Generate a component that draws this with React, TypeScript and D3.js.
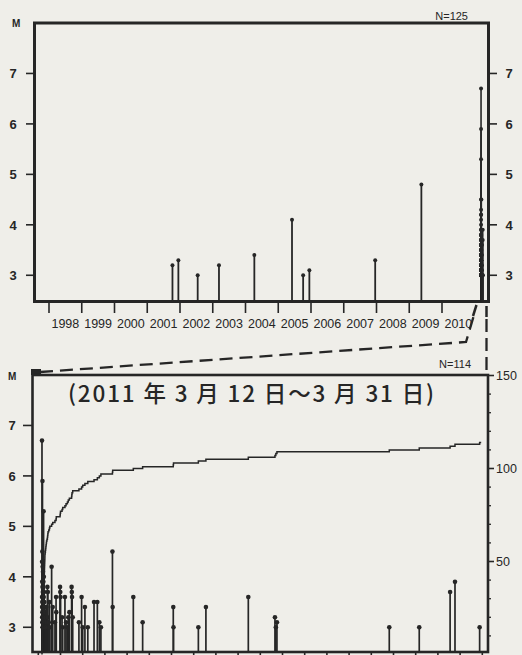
import React from "react";
import * as d3 from "d3";

const W = 522;
const H = 655;

// ---- Top chart: events before 2011 (decimal year, magnitude)
const pastYears = [2001.77, 2001.95, 2002.54, 2003.19, 2004.27, 2005.42, 2005.76, 2005.95, 2007.96, 2009.37];
const pastMags = [3.2, 3.3, 3.0, 3.2, 3.4, 4.1, 3.0, 3.1, 3.3, 4.8];

// ---- 2011 sequence: days since 2011-03-12 00:00, magnitude
const seqDays = [
  0.166, 0.169, 0.171, 0.173, 0.175, 0.177, 0.179, 0.181, 0.183, 0.185,
  0.188, 0.190, 0.192, 0.194, 0.196, 0.198, 0.200, 0.202, 0.204, 0.207,
  0.209, 0.211, 0.213, 0.215, 0.218, 0.220, 0.222, 0.225, 0.227, 0.229,
  0.232, 0.235, 0.238, 0.241, 0.244, 0.247, 0.250, 0.253, 0.256, 0.259,
  0.262, 0.265, 0.268, 0.271, 0.274, 0.277, 0.280, 0.283, 0.286, 0.289,
  0.292, 0.295, 0.297, 0.299,
  0.31, 0.32, 0.33, 0.34, 0.35, 0.36, 0.37,
  0.39, 0.41, 0.42, 0.43, 0.44,
  0.47, 0.50, 0.52,
  0.60, 0.65,
  0.75, 0.80, 0.81,
  0.98, 0.99, 1.00,
  1.07, 1.10,
  1.20, 1.25,
  1.31, 1.35, 1.40,
  1.50, 1.51, 1.52, 1.55,
  1.83,
  1.95, 2.00,
  2.10, 2.23,
  2.51, 2.66, 2.75, 2.82,
  3.34, 3.35,
  4.28, 4.70,
  6.08, 6.09,
  7.21, 7.55,
  9.46,
  10.66, 10.70, 10.75,
  15.81, 17.16, 18.55, 18.77, 19.88,
];
const seqMags = [
  6.7, 3.6, 4.3, 3.4, 3.9, 3.2, 3.5, 4.5, 3.1, 3.3,
  5.9, 3.8, 3.0, 3.4, 4.2, 3.2, 3.6, 3.1, 3.7, 3.0,
  3.3, 4.1, 3.2, 3.5, 3.0, 3.8, 3.1, 3.4, 3.0, 3.9,
  3.2, 3.3, 5.3, 3.0, 3.6, 3.1, 4.0, 3.2, 3.0, 3.4,
  3.7, 3.1, 3.0, 3.3, 3.5, 3.0, 3.2, 3.1, 3.4, 3.0,
  3.3, 3.1, 3.0, 3.2,
  3.1, 3.3, 3.0, 3.2, 3.0, 3.4, 3.1,
  3.0, 3.8, 3.2, 3.7, 3.0,
  3.1, 3.5, 3.0,
  4.2, 3.4,
  3.1, 3.6, 3.3,
  3.8, 3.7, 3.6,
  3.2, 3.0,
  3.6, 3.1,
  3.0, 3.2, 3.3,
  3.8, 3.7, 3.6, 3.2,
  3.1,
  3.6, 3.0,
  3.4, 3.0,
  3.5, 3.5, 3.1, 3.0,
  4.5, 3.4,
  3.6, 3.1,
  3.4, 3.0,
  3.0, 3.4,
  3.6,
  3.2, 3.0, 3.1,
  3.0, 3.0, 3.7, 3.9, 3.0,
];

const yearTicks = [1998, 1999, 2000, 2001, 2002, 2003, 2004, 2005, 2006, 2007, 2008, 2009, 2010];
const yearLabels = ["1998", "1999", "2000", "2001", "2002", "2003", "2004", "2005", "2006", "2007", "2008", "2009", "2010"];
const magTicks = [3, 4, 5, 6, 7];
const countTicks = [50, 100, 150];
const countMinor = [10, 20, 30, 40, 60, 70, 80, 90, 110, 120, 130, 140];
const dayTicks = [0, 1, 2, 3, 4, 5, 6, 7, 8, 9, 10, 11, 12, 13, 14, 15, 16, 17, 18, 19, 20];

const INK = "#262626";
const FONT = "'Liberation Sans', Arial, sans-serif";

export default function App() {
  // top chart scales
  const xTop = d3.scaleLinear().domain([1998, 2011]).range([49, 474.75]);
  const yTop = d3.scaleLinear().domain([2.5, 8]).range([300.5, 23]);
  const topL = 34.5, topR = 488.5, topT = 23, topB = 301.5;

  // bottom chart scales
  const xBot = d3.scaleLinear().domain([0, 20]).range([38.3, 482.3]);
  const yBot = d3.scaleLinear().domain([2.5, 8]).range([652.5, 375]);
  const yCnt = d3.scaleLinear().domain([0, 150]).range([654.5, 375.5]);
  const botL = 32.5, botR = 488, botT = 375, botB = 652;

  const seqYears = seqDays.map((d) => 2011 + (70 + d) / 365);

  const cumPts: [number, number][] = [[seqDays[0], 0]];
  seqDays.forEach((d, i) => cumPts.push([d, i + 1]));
  cumPts.push([19.95, seqDays.length]);
  const cumLine = d3
    .line<[number, number]>()
    .x((p) => xBot(p[0]))
    .y((p) => yCnt(p[1]))
    .curve(d3.curveStepAfter)(cumPts) as string;

  return (
    <svg width={W} height={H} style={{ position: "absolute", left: 0, top: 0, background: "#efeee9" }}>
      <rect x={0} y={0} width={W} height={H} fill="#efeee9" />

      {/* ================= TOP CHART ================= */}
      <rect x={topL} y={topT} width={topR - topL} height={topB - topT} fill="none" stroke={INK} strokeWidth={3} />
      <text x={12} y={27} fontFamily={FONT} fontSize={10} fontWeight="bold" fill={INK}>M</text>
      <text x={468} y={20} fontFamily={FONT} fontSize={11} textAnchor="end" fill={INK}>N=125</text>

      {magTicks.map((m) => (
        <g key={"tm" + m}>
          <line x1={26} x2={topL} y1={yTop(m)} y2={yTop(m)} stroke={INK} strokeWidth={1.6} />
          <text x={13} y={yTop(m) + 4.8} fontFamily={FONT} fontSize={13} fontWeight="bold" textAnchor="middle" fill={INK}>{m}</text>
          <line x1={topR} x2={497} y1={yTop(m)} y2={yTop(m)} stroke={INK} strokeWidth={1.6} />
          <text x={509} y={yTop(m) + 4.8} fontFamily={FONT} fontSize={13} fontWeight="bold" textAnchor="middle" fill={INK}>{m}</text>
        </g>
      ))}

      {yearTicks.map((y, i) => (
        <g key={"yt" + y}>
          <line x1={xTop(y)} x2={xTop(y)} y1={topB} y2={313} stroke={INK} strokeWidth={1.6} />
          <text x={xTop(y + 0.5)} y={328} fontFamily={FONT} fontSize={12.5} textAnchor="middle" fill={INK}>{yearLabels[i]}</text>
        </g>
      ))}
      {/* axis break mark and last tick */}
      <line x1={473} x2={476.5} y1={316} y2={305} stroke={INK} strokeWidth={2.5} />
      <line x1={486.5} x2={486.5} y1={306} y2={317} stroke={INK} strokeWidth={2.5} />

      {pastYears.map((y, i) => (
        <g key={"pe" + i}>
          <line x1={xTop(y)} x2={xTop(y)} y1={topB} y2={yTop(pastMags[i])} stroke={INK} strokeWidth={1.8} />
          <circle cx={xTop(y)} cy={yTop(pastMags[i])} r={2} fill={INK} />
        </g>
      ))}
      {seqYears.map((y, i) => (
        <g key={"se" + i}>
          <line x1={xTop(y)} x2={xTop(y)} y1={topB} y2={yTop(seqMags[i])} stroke={INK} strokeWidth={1.6} />
          <circle cx={xTop(y)} cy={yTop(seqMags[i])} r={2} fill={INK} />
        </g>
      ))}

      {/* ================= ZOOM INDICATOR ================= */}
      <rect x={31} y={369} width={10} height={6} fill={INK} />
      <polyline points="40,372 466,342 474,315" fill="none" stroke={INK} strokeWidth={2.3} strokeDasharray="13 7" />
      <line x1={486.5} x2={486.5} y1={319} y2={372} stroke={INK} strokeWidth={2.3} strokeDasharray="13 6" />

      {/* ================= BOTTOM CHART ================= */}
      <rect x={botL} y={botT} width={botR - botL} height={botB - botT} fill="none" stroke={INK} strokeWidth={2.6} />
      <text x={8} y={380} fontFamily={FONT} fontSize={10} fontWeight="bold" fill={INK}>M</text>
      <text x={471} y={368} fontFamily={FONT} fontSize={11} textAnchor="end" fill={INK}>N=114</text>
      <text x={68} y={402} fontFamily="'Noto Sans CJK JP', sans-serif" fontSize={22.5} fontWeight={500} textLength={366} lengthAdjust="spacing" fill={INK}>
        (2011 年 3 月 12 日～3 月 31 日)
      </text>

      {magTicks.map((m) => (
        <g key={"bm" + m}>
          <line x1={23} x2={botL} y1={yBot(m)} y2={yBot(m)} stroke={INK} strokeWidth={1.6} />
          <text x={12} y={yBot(m) + 4.8} fontFamily={FONT} fontSize={13} fontWeight="bold" textAnchor="middle" fill={INK}>{m}</text>
        </g>
      ))}
      {countTicks.map((c) => (
        <g key={"ct" + c}>
          <line x1={botR} x2={494} y1={yCnt(c)} y2={yCnt(c)} stroke={INK} strokeWidth={1.6} />
          <text x={496} y={yCnt(c) + 4.5} fontFamily={FONT} fontSize={12.5} fill={INK}>{c}</text>
        </g>
      ))}
      {countMinor.map((c) => (
        <line key={"cm" + c} x1={botR} x2={491} y1={yCnt(c)} y2={yCnt(c)} stroke={INK} strokeWidth={1.3} />
      ))}
      {dayTicks.map((d) => (
        <line key={"dt" + d} x1={xBot(d)} x2={xBot(d)} y1={botB} y2={661} stroke={INK} strokeWidth={1.6} />
      ))}

      {seqDays.map((d, i) => (
        <g key={"bs" + i}>
          <line x1={xBot(d)} x2={xBot(d)} y1={botB} y2={yBot(seqMags[i])} stroke={INK} strokeWidth={1.7} />
          <circle cx={xBot(d)} cy={yBot(seqMags[i])} r={2.3} fill={INK} />
        </g>
      ))}

      <path d={cumLine} fill="none" stroke={INK} strokeWidth={1.5} />
    </svg>
  );
}
